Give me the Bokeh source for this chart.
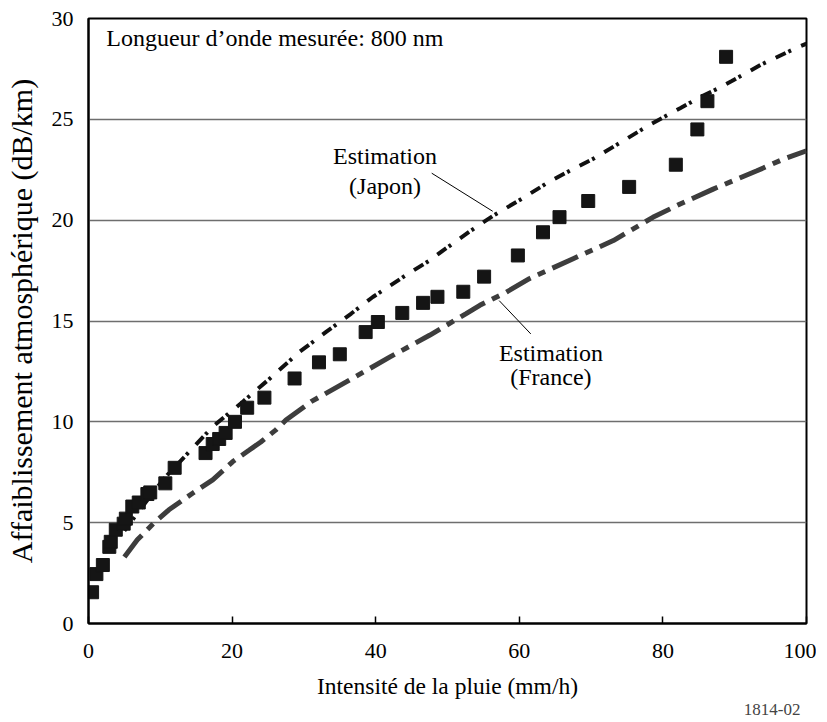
from bokeh.plotting import figure
from bokeh.models import Label, Range1d, FixedTicker, Title
from bokeh.embed import file_html
from bokeh.resources import INLINE

# Measured attenuation (squares)
rain_meas = [0.5, 1.1, 2.0, 2.9, 3.1, 3.8, 4.9, 5.2, 6.1, 7.0, 8.2, 8.6, 10.7, 12.0,
             16.3, 17.3, 18.2, 19.1, 20.4, 22.1, 24.5, 28.7, 32.1, 35.0, 38.6, 40.3,
             43.7, 46.6, 48.6, 52.2, 55.1, 59.8, 63.3, 65.6, 69.6, 75.3, 81.8, 84.8,
             86.2, 88.8]
att_meas = [1.55, 2.45, 2.9, 3.8, 4.05, 4.65, 4.95, 5.2, 5.8, 6.0, 6.42, 6.5, 6.95, 7.72,
            8.45, 8.9, 9.15, 9.45, 10.0, 10.7, 11.2, 12.15, 12.95, 13.35, 14.45, 14.95,
            15.4, 15.9, 16.2, 16.45, 17.2, 18.25, 19.4, 20.15, 20.95, 21.65, 22.75, 24.5,
            25.9, 28.1]

# Estimation (Japon)
rain_japan = [5.0, 8.9, 11.0, 14.5, 17.3, 21.5, 25.0, 29.4, 33.1, 36.6, 39.6, 44.5,
              47.5, 49.4, 53.3, 56.4, 60.3, 64.0, 66.6, 70.5, 74.5, 78.4, 82.4, 85.2,
              87.5, 89.6, 93.6, 98.7, 100.0]
att_japan = [4.6, 6.46, 7.37, 8.69, 9.76, 11.0, 12.07, 13.47, 14.46, 15.37, 16.19, 17.34,
             18.0, 18.5, 19.49, 20.23, 21.05, 21.87, 22.37, 23.08, 23.94, 24.78, 25.55, 26.1,
             26.5, 26.9, 27.7, 28.56, 28.75]

# Estimation (France)
rain_france = [5.0, 6.8, 9.1, 11.2, 14.5, 17.3, 20.1, 22.4, 24.0, 26.1, 27.5, 31.0, 35.9,
               42.0, 47.5, 52.6, 54.5, 58.2, 61.4, 67.5, 73.1, 78.6, 82.4, 87.0, 93.1,
               96.8, 100.0]
att_france = [3.3, 4.15, 4.98, 5.64, 6.46, 7.12, 8.03, 8.6, 9.0, 9.6, 10.09, 11.0, 11.98,
              13.22, 14.29, 15.37, 15.78, 16.43, 17.1, 18.09, 18.99, 20.14, 20.8, 21.54,
              22.45, 23.03, 23.44]

x_ticks = [0, 20, 40, 60, 80, 100]
y_ticks = [0, 5, 10, 15, 20, 25, 30]
grid_lines = [5, 10, 15, 20, 25]

FONT = "Liberation Serif"

p = figure(width=816, height=722, x_range=Range1d(0, 100), y_range=Range1d(0, 30),
           output_backend="svg", toolbar_location=None,
           min_border_left=88, min_border_right=10, min_border_top=18,
           min_border_bottom=99)
p.background_fill_color = "white"
p.border_fill_color = "white"
p.outline_line_color = "black"
p.outline_line_width = 2

p.xgrid.visible = False
p.ygrid.ticker = FixedTicker(ticks=grid_lines)
p.ygrid.grid_line_color = "#6e6e6e"
p.ygrid.grid_line_width = 1.3

for ax in (p.xaxis, p.yaxis):
    ax.axis_line_width = 2
    ax.axis_line_color = "black"
    ax.major_label_text_font = FONT
    ax.major_label_text_font_size = "22px"
    ax.major_label_text_color = "black"
    ax.axis_label_text_font = FONT
    ax.axis_label_text_font_style = "normal"
    ax.axis_label_text_color = "black"
    ax.minor_tick_line_color = None

p.xaxis.axis_label_text_font_size = "23.5px"
p.yaxis.axis_label_text_font_size = "30px"
p.xaxis.ticker = FixedTicker(ticks=x_ticks)
p.yaxis.ticker = FixedTicker(ticks=y_ticks)
p.xaxis.major_tick_in = 7
p.xaxis.major_tick_out = 0
p.xaxis.major_tick_line_width = 1.5
p.yaxis.major_tick_in = 0
p.yaxis.major_tick_out = 0
p.xaxis.major_label_standoff = 20
p.yaxis.major_label_standoff = 15
p.xaxis.axis_label = "Intensité de la pluie (mm/h)"
p.yaxis.axis_label = "Affaiblissement atmosphérique (dB/km)"
p.xaxis.axis_label_standoff = 12
p.yaxis.axis_label_standoff = 11

# Lines
p.line(rain_france, att_france, line_color="#3d3d3d", line_width=5,
       line_dash="28 8 8 8")
p.line(rain_japan, att_japan, line_color="#111111", line_width=4,
       line_dash="11 3 3 11")

# Measured squares
p.scatter(rain_meas, att_meas, marker="square", size=13,
          fill_color="#151515", line_color="#151515")

# Leader lines
p.segment(x0=[47.8, 57.2], y0=[22.33, 16.01], x1=[56.3, 61.6], y1=[20.44, 14.36],
          line_color="black", line_width=1)

def add_text(x, y, txt, size="24px", align="center", baseline="middle"):
    p.add_layout(Label(x=x, y=y, text=txt, text_font=FONT, text_font_size=size,
                       text_align=align, text_baseline=baseline, text_color="black"))

add_text(41.3, 23.2, "Estimation")
add_text(41.3, 21.7, "(Japon)")
add_text(64.4, 13.4, "Estimation")
add_text(64.4, 12.2, "(France)")
add_text(2.47, 29.04, "Longueur d\u2019onde mesurée: 800 nm", align="left",
         baseline="alphabetic")

p.add_layout(Title(text="1814-02", align="right", text_font=FONT,
                   text_font_size="17px", text_font_style="normal",
                   standoff=0, offset=6), "below")

open("out.html", "w").write(file_html(p, INLINE))
